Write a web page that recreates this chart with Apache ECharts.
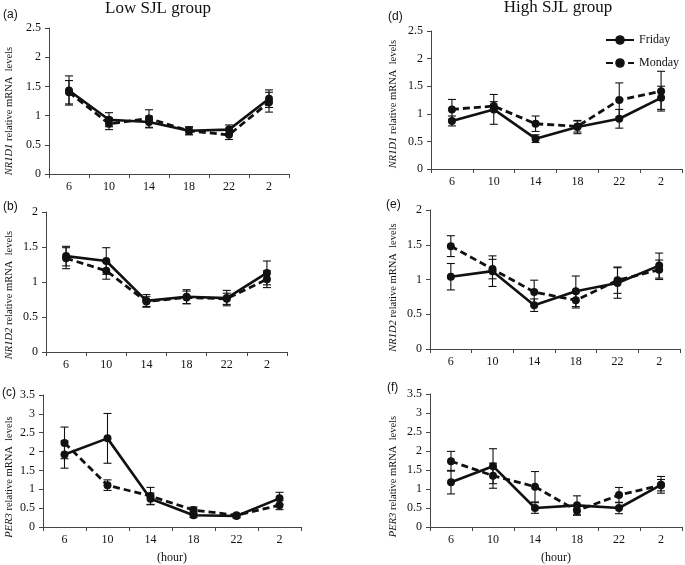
<!DOCTYPE html>
<html><head><meta charset="utf-8">
<script src="https://cdn.jsdelivr.net/npm/echarts@6/dist/echarts.min.js"></script>
<style>html,body{margin:0;padding:0;background:#fff}#c{width:685px;height:565px}</style>
</head><body><div id="c"></div>
<script>
// Categories (hour of day)
const hours = ['6','10','14','18','22','2'];
const yTicksA = [0, 2.5, 0.5];   // min, max, interval for NR1D1
const yTicksB = [0, 2, 0.5];     // NR1D2
const yTicksC = [0, 3.5, 0.5];   // PER3

// (a) Low SJL - NR1D1
const lowNR1D1Fri    = [1.43, 0.93, 0.89, 0.74, 0.76, 1.29];
const lowNR1D1FriErr = [0.25, 0.12, 0.10, 0.07, 0.08, 0.15];
const lowNR1D1Mon    = [1.40, 0.86, 0.95, 0.74, 0.67, 1.23];
const lowNR1D1MonErr = [0.20, 0.10, 0.15, 0.06, 0.08, 0.17];
// (b) Low SJL - NR1D2
const lowNR1D2Fri    = [1.37, 1.30, 0.73, 0.79, 0.77, 1.13];
const lowNR1D2FriErr = [0.14, 0.19, 0.09, 0.10, 0.11, 0.17];
const lowNR1D2Mon    = [1.34, 1.16, 0.72, 0.78, 0.76, 1.04];
const lowNR1D2MonErr = [0.15, 0.12, 0.07, 0.09, 0.08, 0.12];
// (c) Low SJL - PER3
const lowPER3Fri     = [1.92, 2.35, 0.75, 0.31, 0.29, 0.76];
const lowPER3FriErr  = [0.36, 0.66, 0.15, 0.06, 0.05, 0.16];
const lowPER3Mon     = [2.23, 1.11, 0.82, 0.45, 0.31, 0.58];
const lowPER3MonErr  = [0.42, 0.14, 0.23, 0.08, 0.05, 0.12];
// (d) High SJL - NR1D1
const highNR1D1Fri    = [0.87, 1.08, 0.55, 0.76, 0.91, 1.29];
const highNR1D1FriErr = [0.09, 0.27, 0.07, 0.12, 0.17, 0.21];
const highNR1D1Mon    = [1.08, 1.14, 0.82, 0.77, 1.25, 1.41];
const highNR1D1MonErr = [0.18, 0.08, 0.14, 0.10, 0.31, 0.36];
// (e) High SJL - NR1D2
const highNR1D2Fri    = [1.04, 1.12, 0.63, 0.83, 0.95, 1.20];
const highNR1D2FriErr = [0.19, 0.22, 0.09, 0.22, 0.22, 0.18];
const highNR1D2Mon    = [1.48, 1.15, 0.82, 0.70, 0.99, 1.14];
const highNR1D2MonErr = [0.15, 0.14, 0.17, 0.11, 0.19, 0.14];
// (f) High SJL - PER3
const highPER3Fri     = [1.18, 1.60, 0.50, 0.57, 0.50, 1.11];
const highPER3FriErr  = [0.31, 0.46, 0.14, 0.25, 0.15, 0.22];
const highPER3Mon     = [1.73, 1.35, 1.06, 0.43, 0.84, 1.10];
const highPER3MonErr  = [0.26, 0.33, 0.40, 0.12, 0.20, 0.15];

const SERIF = 'Liberation Serif';
const SANS = 'Liberation Sans';
const INK = '#111';

const panels = [
  {tag:'(a)', gene:'NR1D1', ticks:yTicksA, fri:lowNR1D1Fri, friE:lowNR1D1FriErr, mon:lowNR1D1Mon, monE:lowNR1D1MonErr,
   grid:{left:49, top:28, width:240, height:146}, tagPos:[3,9], nameGap:34, nameShift:20, hour:false},
  {tag:'(b)', gene:'NR1D2', ticks:yTicksB, fri:lowNR1D2Fri, friE:lowNR1D2FriErr, mon:lowNR1D2Mon, monE:lowNR1D2MonErr,
   grid:{left:46, top:212, width:241, height:140}, tagPos:[3,201], nameGap:31, nameShift:26, hour:false},
  {tag:'(c)', gene:'PER3', ticks:yTicksC, fri:lowPER3Fri, friE:lowPER3FriErr, mon:lowPER3Mon, monE:lowPER3MonErr,
   grid:{left:43, top:395, width:258, height:138}, tagPos:[2,387], nameGap:28, nameShift:32, hour:true},
  {tag:'(d)', gene:'NR1D1', ticks:yTicksA, fri:highNR1D1Fri, friE:highNR1D1FriErr, mon:highNR1D1Mon, monE:highNR1D1MonErr,
   grid:{left:431, top:31, width:251, height:138}, tagPos:[388,11], nameGap:32, nameShift:8, hour:false},
  {tag:'(e)', gene:'NR1D2', ticks:yTicksB, fri:highNR1D2Fri, friE:highNR1D2FriErr, mon:highNR1D2Mon, monE:highNR1D2MonErr,
   grid:{left:430, top:210, width:250, height:139}, tagPos:[386,199], nameGap:31, nameShift:16, hour:false},
  {tag:'(f)', gene:'PER3', ticks:yTicksC, fri:highPER3Fri, friE:highPER3FriErr, mon:highPER3Mon, monE:highPER3MonErr,
   grid:{left:430, top:394, width:252, height:139}, tagPos:[387,382], nameGap:31, nameShift:32, hour:true}
];

function errItem(params, api){
  const x = api.value(0), lo = api.value(1), hi = api.value(2);
  const p1 = api.coord([x, hi]), p2 = api.coord([x, lo]);
  const w = 4;
  const style = {stroke: INK, lineWidth: 1.1};
  return {type:'group', children:[
    {type:'line', shape:{x1:p1[0], y1:p1[1], x2:p2[0], y2:p2[1]}, style},
    {type:'line', shape:{x1:p1[0]-w, y1:p1[1], x2:p1[0]+w, y2:p1[1]}, style},
    {type:'line', shape:{x1:p2[0]-w, y1:p2[1], x2:p2[0]+w, y2:p2[1]}, style}
  ]};
}

const grid = [], xAxis = [], yAxis = [], series = [], graphic = [];
panels.forEach((p, i) => {
  grid.push(Object.assign({containLabel:false}, p.grid));
  xAxis.push({
    type:'category', gridIndex:i, data:hours, boundaryGap:true,
    name: p.hour ? '(hour)' : '', nameLocation:'middle', nameGap:25,
    nameTextStyle:{fontFamily:SERIF, fontSize:12, color:INK},
    axisLine:{lineStyle:{color:'#444', width:1}},
    axisTick:{show:true, length:4, interval:0, lineStyle:{color:'#444'}},
    axisLabel:{fontFamily:SERIF, fontSize:12, color:INK, margin:7, interval:0},
    splitLine:{show:false}
  });
  yAxis.push({
    type:'value', gridIndex:i, min:p.ticks[0], max:p.ticks[1], interval:p.ticks[2],
    name:'{i|' + p.gene + '} relative mRNA  levels', nameLocation:'middle', nameGap:p.nameGap,
    nameTextStyle:{fontFamily:SERIF, fontSize:10.5, color:INK, padding:[0, p.nameShift, 0, 0],
      rich:{i:{fontFamily:SERIF, fontSize:10.5, fontStyle:'italic', color:INK}}},
    axisLine:{show:true, lineStyle:{color:'#444', width:1}},
    axisTick:{show:true, length:4, lineStyle:{color:'#444'}},
    axisLabel:{fontFamily:SERIF, fontSize:12, color:INK, margin:8},
    splitLine:{show:false}
  });
  const errData = (v, e) => v.map((y, k) => [k, y - e[k], y + e[k]]);
  series.push({type:'custom', xAxisIndex:i, yAxisIndex:i, renderItem:errItem,
    data:errData(p.fri, p.friE), encode:{x:0, y:[1,2]}, z:1, silent:true});
  series.push({type:'custom', xAxisIndex:i, yAxisIndex:i, renderItem:errItem,
    data:errData(p.mon, p.monE), encode:{x:0, y:[1,2]}, z:1, silent:true});
  series.push({name:'Monday', type:'line', xAxisIndex:i, yAxisIndex:i, data:p.mon,
    symbol:'circle', symbolSize:8, itemStyle:{color:INK},
    lineStyle:{color:INK, width:2.8, type:[7,4]}, z:3, animation:false});
  series.push({name:'Friday', type:'line', xAxisIndex:i, yAxisIndex:i, data:p.fri,
    symbol:'circle', symbolSize:8, itemStyle:{color:INK},
    lineStyle:{color:INK, width:2.6, type:'solid'}, z:4, animation:false});
  graphic.push({type:'text', left:p.tagPos[0], top:p.tagPos[1],
    style:{text:p.tag, font:'12px ' + SANS, fill:INK}});
});

graphic.push({type:'text', style:{text:'Low SJL group', font:'17px ' + SERIF, fill:INK, textAlign:'center', textVerticalAlign:'top'}, x:158, y:0});
graphic.push({type:'text', style:{text:'High SJL group', font:'17px ' + SERIF, fill:INK, textAlign:'center', textVerticalAlign:'top'}, x:558, y:-1});

const chart = echarts.init(document.getElementById('c'), null, {renderer:'canvas'});
chart.setOption({
  animation:false,
  backgroundColor:'#fff',
  grid, xAxis, yAxis, series, graphic,
  legend:{
    data:['Friday','Monday'], orient:'vertical', left:600, top:29, itemGap:11,
    itemWidth:28, itemHeight:12,
    textStyle:{fontFamily:SERIF, fontSize:12, color:INK}, selectedMode:false
  }
});
</script></body></html>
